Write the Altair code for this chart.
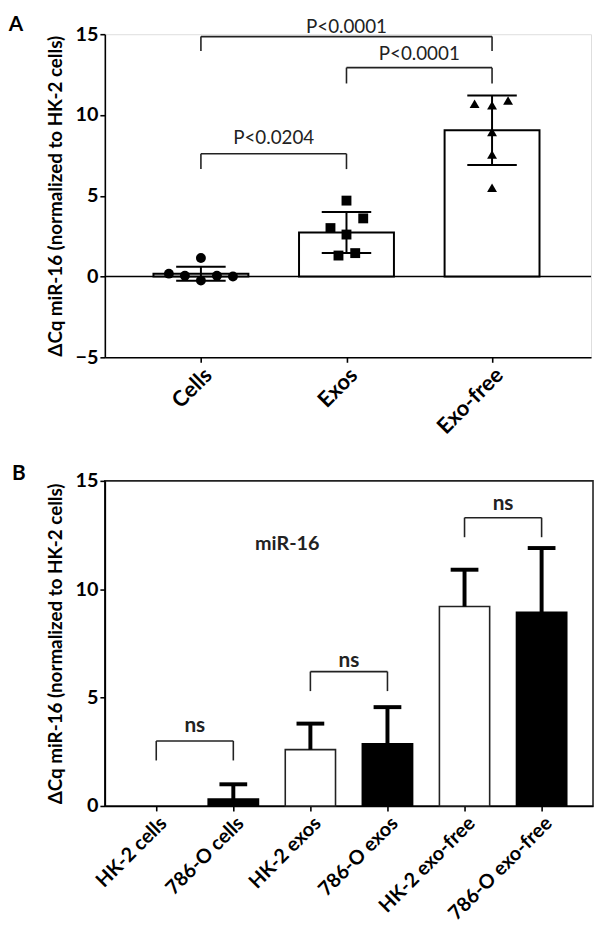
import altair as alt
import pandas as pd

FONT = "Lato"
INK = "#000000"
LINE = "#222222"

# ---------------- Panel A data ----------------
cats_a = ["Cells", "Exos", "Exo-free"]
mean_a = [0.17, 2.73, 9.05]
sd_a = [0.43, 1.27, 2.15]
shapes_a = ["circle", "square", "triangle-up"]
pts_cells = [0.18, 0.05, 1.15, -0.25, 0.05, 0.0]
jit_cells = [-0.22, -0.11, 0.0, 0.0, 0.11, 0.22]
pts_exos = [4.7, 3.6, 3.0, 2.6, 1.3, 1.45]
jit_exos = [0.0, 0.115, -0.11, 0.0, -0.055, 0.06]
pts_free = [10.7, 10.6, 10.9, 8.95, 7.55, 5.5]
jit_free = [-0.12, 0.0, 0.11, 0.0, 0.0, 0.0]

br_a_label = ["P<0.0204", "P<0.0001", "P<0.0001"]
br_a_from = [1, 1, 2]
br_a_to = [2, 3, 3]
br_a_top = [7.6, 14.85, 12.93]
br_a_leg = [6.65, 13.96, 11.95]
br_a_text = [8.6, 15.45, 13.75]

# ---------------- Panel B data ----------------
cats_b = ["HK-2 cells", "786-O cells", "HK-2 exos", "786-O exos",
          "HK-2 exo-free", "786-O exo-free"]
line_b = ["HK-2", "786-O", "HK-2", "786-O", "HK-2", "786-O"]
mean_b = [0.0, 0.32, 2.6, 2.87, 9.2, 8.94]
sd_b = [0.0, 0.68, 1.2, 1.69, 1.7, 2.96]

br_b_label = ["ns", "ns", "ns"]
br_b_from = [1, 3, 5]
br_b_to = [2, 4, 6]
br_b_top = [3.0, 6.2, 13.3]
br_b_leg = [2.1, 5.3, 12.4]
br_b_text = [3.7, 6.7, 13.95]
note_b = "miR-16"
note_b_x = 2.7
note_b_y = 12.1

YTITLE = "ΔCq miR-16 (normalized to HK-2 cells)"
BAR_HALF = 0.326


def label_expr(cats):
    return "[" + ",".join("'" + c + "'" for c in cats) + "][datum.value - 1]"


def axis_common(**kw):
    base = dict(domainColor=INK, domainWidth=1.6, tickColor=INK, tickWidth=1.6,
                tickSize=5, labelFont=FONT, labelFontWeight="bold", labelColor=INK,
                labelFontSize=22, grid=False, titleFont=FONT, titleFontWeight="bold",
                titleColor=INK, titleFontSize=19, labelOverlap=False, labelBound=False)
    base.update(kw)
    return alt.Axis(**base)


def make_panel(cats, xdom, ydom, yvals, xfont):
    xaxis = axis_common(values=list(range(1, len(cats) + 1)), labelExpr=label_expr(cats),
                        labelAngle=-45, labelPadding=2, labelFontSize=xfont)
    yaxis = axis_common(values=yvals, title=YTITLE, titlePadding=10, labelFontSize=20,
                        labelPadding=2)
    xs = alt.Scale(domain=xdom, nice=False, zero=False)
    ys = alt.Scale(domain=ydom, nice=False, zero=False)

    def X(f):
        return alt.X(f, type="quantitative", scale=xs, axis=xaxis, title=None)

    def Y(f):
        return alt.Y(f, type="quantitative", scale=ys, axis=yaxis, title=YTITLE)

    return X, Y


def bracket_frames(frm, to, top, leg, labels, txt):
    h = pd.DataFrame({"x": frm, "x2": to, "y": top})
    legs = pd.DataFrame({"x": frm + to, "y": top + top, "y2": leg + leg})
    t = pd.DataFrame({"x": [(a + b) / 2 for a, b in zip(frm, to)], "y": txt, "label": labels})
    return h, legs, t


# ---------------- Panel A ----------------
XA, YA = make_panel(cats_a, [0.34, 3.68], [-5, 15], [-5, 0, 5, 10, 15], 22)

pos_a = list(range(1, len(cats_a) + 1))
bars_a = pd.DataFrame({"x": [p - BAR_HALF for p in pos_a], "x2": [p + BAR_HALF for p in pos_a],
                       "y": [0] * 3, "y2": mean_a})
err_a = pd.DataFrame({"x": pos_a, "lo": [m - s for m, s in zip(mean_a, sd_a)],
                      "hi": [m + s for m, s in zip(mean_a, sd_a)]})
caps_a = pd.DataFrame({"x": [p - 0.17 for p in pos_a] * 2, "x2": [p + 0.17 for p in pos_a] * 2,
                       "y": list(err_a["lo"]) + list(err_a["hi"])})
pts_rows = []
for i, (vals, jit) in enumerate([(pts_cells, jit_cells), (pts_exos, jit_exos), (pts_free, jit_free)]):
    for v, j in zip(vals, jit):
        pts_rows.append({"x": pos_a[i] + j, "y": v, "grp": cats_a[i]})
pts_a = pd.DataFrame(pts_rows)
hA, legA, tA = bracket_frames(br_a_from, br_a_to, br_a_top, br_a_leg, br_a_label, br_a_text)

zero_a = alt.Chart(pd.DataFrame({"y": [0]})).mark_rule(color=INK, strokeWidth=1.6).encode(y=YA("y"))
bar_layer_a = alt.Chart(bars_a).mark_bar(fill="white", stroke=INK, strokeWidth=2).encode(
    x=XA("x"), x2="x2", y=YA("y"), y2="y2")
errv_a = alt.Chart(err_a).mark_rule(color=INK, strokeWidth=2).encode(x=XA("x"), y=YA("lo"), y2="hi")
caps_layer_a = alt.Chart(caps_a).mark_rule(color=INK, strokeWidth=2).encode(x=XA("x"), x2="x2", y=YA("y"))
pts_layer_a = alt.Chart(pts_a).mark_point(filled=True, opacity=1, size=100, color=INK).encode(
    x=XA("x"), y=YA("y"),
    shape=alt.Shape("grp:N", scale=alt.Scale(domain=cats_a, range=shapes_a), legend=None))
brh_a = alt.Chart(hA).mark_rule(color=LINE, strokeWidth=1.6).encode(x=XA("x"), x2="x2", y=YA("y"))
brl_a = alt.Chart(legA).mark_rule(color=LINE, strokeWidth=1.6).encode(x=XA("x"), y=YA("y"), y2="y2")
brt_a = alt.Chart(tA).mark_text(font=FONT, fontSize=19, color=LINE, baseline="middle").encode(
    x=XA("x"), y=YA("y"), text="label:N")
letter_a = alt.Chart(pd.DataFrame({"t": ["A"]})).mark_text(
    font=FONT, fontSize=21, fontWeight="bold", color=INK, baseline="middle").encode(
    x=alt.value(-90), y=alt.value(-9), text="t:N")

panel_a = alt.layer(zero_a, bar_layer_a, errv_a, caps_layer_a, pts_layer_a,
                    brh_a, brl_a, brt_a, letter_a).properties(width=492, height=327)

# ---------------- Panel B ----------------
XB, YB = make_panel(cats_b, [0.333, 6.667], [0, 15], [0, 5, 10, 15], 20)
pos_b = list(range(1, len(cats_b) + 1))
bars_b = pd.DataFrame({"x": [p - BAR_HALF for p in pos_b], "x2": [p + BAR_HALF for p in pos_b],
                       "y": [0] * 6, "y2": mean_b, "line": line_b})
bars_b = bars_b[bars_b["y2"] > 0]
err_b = pd.DataFrame({"x": pos_b, "lo": mean_b,
                      "hi": [m + s for m, s in zip(mean_b, sd_b)], "sd": sd_b})
err_b = err_b[err_b["sd"] > 0]
caps_b = pd.DataFrame({"x": err_b["x"] - 0.18, "x2": err_b["x"] + 0.18, "y": err_b["hi"]})
hB, legB, tB = bracket_frames(br_b_from, br_b_to, br_b_top, br_b_leg, br_b_label, br_b_text)

bar_layer_b = alt.Chart(bars_b).mark_bar(strokeWidth=1.6).encode(
    x=XB("x"), x2="x2", y=YB("y"), y2="y2",
    fill=alt.Fill("line:N", scale=alt.Scale(domain=["HK-2", "786-O"], range=["white", INK]), legend=None),
    stroke=alt.Stroke("line:N", scale=alt.Scale(domain=["HK-2", "786-O"], range=[LINE, INK]), legend=None))
errv_b = alt.Chart(err_b).mark_rule(color=INK, strokeWidth=4).encode(x=XB("x"), y=YB("lo"), y2="hi")
caps_layer_b = alt.Chart(caps_b).mark_rule(color=INK, strokeWidth=4).encode(x=XB("x"), x2="x2", y=YB("y"))
brh_b = alt.Chart(hB).mark_rule(color=LINE, strokeWidth=1.6).encode(x=XB("x"), x2="x2", y=YB("y"))
brl_b = alt.Chart(legB).mark_rule(color=LINE, strokeWidth=1.6).encode(x=XB("x"), y=YB("y"), y2="y2")
brt_b = alt.Chart(tB).mark_text(font=FONT, fontSize=21, fontWeight="bold", color=LINE,
                                baseline="middle").encode(x=XB("x"), y=YB("y"), text="label:N")
note_layer_b = alt.Chart(pd.DataFrame({"x": [note_b_x], "y": [note_b_y], "t": [note_b]})).mark_text(
    font=FONT, fontSize=20, fontWeight="bold", color=LINE, baseline="middle").encode(
    x=XB("x"), y=YB("y"), text="t:N")
letter_b = alt.Chart(pd.DataFrame({"t": ["B"]})).mark_text(
    font=FONT, fontSize=21, fontWeight="bold", color=INK, baseline="middle").encode(
    x=alt.value(-87), y=alt.value(-7), text="t:N")

panel_b = alt.layer(bar_layer_b, errv_b, caps_layer_b, brh_b, brl_b, brt_b,
                    note_layer_b, letter_b).properties(
    width=494, height=329, view=alt.ViewBackground(stroke=LINE, strokeWidth=1.6))

chart = alt.vconcat(panel_a, panel_b, spacing=24).properties(padding=0).configure_view(
    stroke=None).configure(background="white")

chart.save("out.html", embed_options={"renderer": "svg", "actions": False})
